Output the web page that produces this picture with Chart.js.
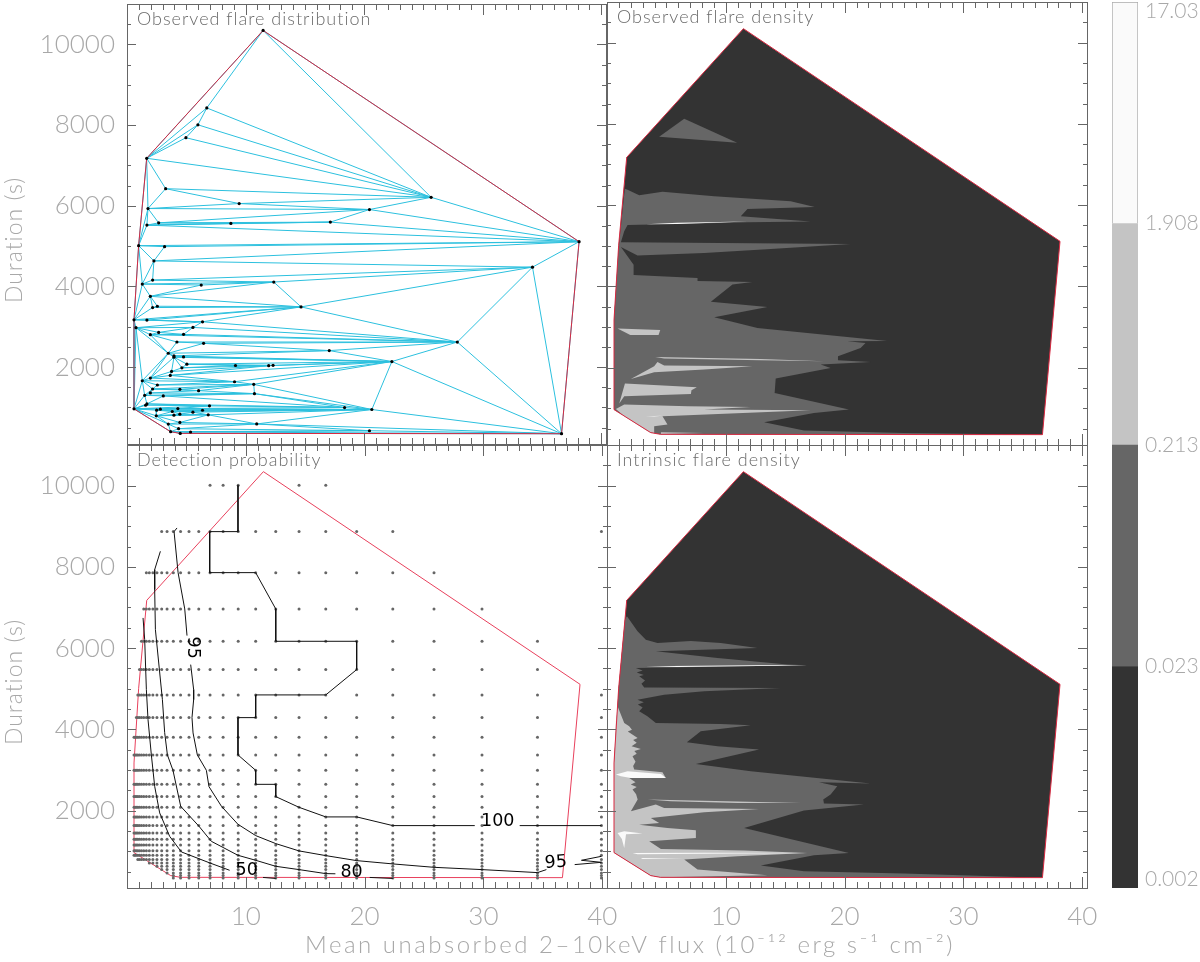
<!DOCTYPE html>
<html><head><meta charset="utf-8">
<script src="https://cdn.jsdelivr.net/npm/chart.js@4"></script>
<style>
html,body{margin:0;padding:0;background:#fff;width:1200px;height:962px;overflow:hidden}
canvas{position:absolute;display:block}
</style></head><body>
<canvas id="p1" style="position:absolute;left:0px;top:0px" width="610" height="448"></canvas>
<canvas id="p2" style="position:absolute;left:600px;top:0px" width="492" height="448"></canvas>
<canvas id="p3" style="position:absolute;left:0px;top:440px" width="1000" height="522"></canvas>
<canvas id="p4" style="position:absolute;left:600px;top:440px" width="500" height="522"></canvas>
<canvas id="cb" style="position:absolute;left:1090px;top:0px" width="110" height="962"></canvas>
<script>
// ---------- observed flares (flux, duration) ----------
const flareFlux=[11.48,6.73,5.98,4.97,1.66,3.26,9.46,1.77,20.45,17.15,8.76,2.67,1.68,25.65,38.13,34.2,27.86,36.65,
0.98,3.17,2.27,2.16,1.29,6.26,12.38,1.97,14.68,2.16,2.56,0.59,1.68,6.37,5.56,0.76,2.67,1.97,4.77,4.21,6.46,17.06,3.48,3.96,3.96,4.77,22.34,5.05,9.15,11.95,12.32,4.63,3.76,3.65,1.97,1.29,9.07,10.69,2.56,2.16,4.46,6.04,1.97,10.75,1.49,3.06,1.68,1.57,6.96,18.35,0.59,2.81,4.29,20.65,2.5,6.37,3.82,5.56,4.46,6.85,3.96,2.47,4.46,3.48,10.94,4.35,3.68,5.36,4.49,20.45];
const flareDuration=[10344,8424,8006,7686,7176,6423,6054,5931,5906,5594,5562,5576,5520,6209,5109,4478,2622,350,
5010,4986,4633,4158,4059,4035,4109,3755,3493,3477,3509,3173,3166,3124,2984,2977,2861,2804,2812,2623,2590,2410,2344,2279,2246,2254,2139,2074,2041,2036,2044,1983,1893,1795,1729,1663,1638,1573,1557,1458,1450,1417,1360,1343,1302,1286,1089,1056,1040,999,966,958,974,950,933,931,900,884,835,818,810,794,629,589,592,474,400,392,358,424];
const hullFlux=[11.48,38.13,36.65,4.49,3.68,0.59,0.59,0.98,1.66,11.48];
const hullDuration=[10344,5109,350,358,400,966,3173,5010,7176,10344];

// ---------- observed density contours ----------
const obsMid=[[1.73,6381],[2.71,6242],[4.67,6332],[9.02,6217],[15.46,6094],[17.48,5955],[11.82,5906],[11.26,5725],[17.14,5594],[11.82,5577],[6.78,5544],[1.73,5512],[1.45,5356],[1.17,5085],[20.5,5044],[13.78,4921],[8.18,4822],[2.57,4757],[1.17,4970],[2.24,4535],[2.24,4281],[7.62,4207],[7.62,4133],[12.24,4109],[10.56,4043],[8.74,3624],[13.5,3493],[9.02,3239],[12.66,2976],[23.58,2656],[20.22,2648],[21.76,2607],[21.34,2484],[19.44,2279],[19.44,2180],[22.18,2139],[17.98,2074],[18.82,1992],[14.2,1729],[14.11,1376],[20.36,966],[17.42,884],[13.22,654],[16.58,449],[24.98,392],[36.65,350],[4.49,358],[3.68,400],[0.59,966],[0.59,3173],[0.98,4950],[1.5,6400]];
const obsPatch=[[4.39,7686],[6.5,8129],[10.95,7538]];
const obsLight=[
 [[0.89,2960],[4.48,2927],[4.34,2804],[1.96,2804]],
 [[4.06,2262],[12.94,2213],[18.26,2156],[12.94,2180],[4.81,2222]],
 [[2.01,1721],[3.97,2033],[4.25,2139],[4.81,2049],[12.24,2033],[8.18,1951],[3.97,1885]],
 [[1.51,1606],[7.56,1516],[7.11,1442],[7.06,1352],[1.45,1294],[1.03,1114]],
 [[0.75,982],[1.45,1089],[6.78,1048],[12.1,1032],[8.18,966],[17.14,950],[6.78,827],[4.67,802],[5.09,597],[3.97,556],[3.97,392],[3.55,408],[1.45,802]],
 [[4.54,408],[8.18,392],[4.54,367]]
];
const obsWhite=[
 [[3.27,5528],[5.93,5569],[11.82,5594],[5.93,5536]],
 [[3.27,802],[4.67,818],[3.97,794]]
];

// ---------- intrinsic density contours ----------
const intMid=[[1.68,6784],[2.57,6414],[3.27,6209],[4.25,6127],[7.05,6176],[9.58,6127],[12.66,6004],[4.11,5922],[9.3,5758],[15.18,5594],[16.86,5577],[2.43,5512],[3.0,5450],[2.5,5400],[3.1,5340],[2.71,5307],[3.2,5200],[2.9,5120],[3.13,5028],[14.62,5020],[8.18,4937],[4.81,4855],[2.57,4732],[3.1,4670],[2.6,4610],[3.0,4540],[2.71,4445],[3.4,4320],[4.11,4158],[9.58,4133],[12.1,4101],[7.89,3953],[6.72,3682],[9.3,3584],[12.8,3502],[7.48,3149],[12.1,2968],[22.18,2665],[17.84,2698],[19.38,2599],[18.82,2394],[18.2,2271],[18.26,2172],[21.62,2148],[16.58,2000],[11.54,1573],[20.36,958],[17.42,900],[12.94,646],[16.58,507],[24.98,449],[36.65,350],[4.49,358],[3.68,400],[0.59,966],[0.59,3173],[0.98,5010],[1.5,6700]];
const intLight=[
 [[0.89,4568],[1.45,4158],[1.87,4076],[2.1,3990],[1.75,3950],[2.58,3789],[2.2,3740],[2.5,3670],[2.07,3584],[2.85,3518],[2.3,3470],[2.5,3400],[2.15,3337],[2.4,3200],[2.2,3100],[2.29,3009],[4.67,2944],[4.95,2804],[1.87,2804],[2.4,2700],[2.0,2640],[2.5,2580],[2.15,2517],[2.45,2400],[2.58,2271],[2.01,1984],[4.11,2148],[4.81,2066],[12.8,2041],[8.18,1959],[3.69,1820],[4.39,1697],[2.71,1655],[5.09,1573],[7.48,1516],[7.48,1327],[3.55,1245],[4.54,1056],[11.54,1016],[16.86,958],[10.98,876],[6.5,794],[7.62,548],[13.5,408],[4.49,358],[3.68,400],[0.59,966],[0.59,3173],[0.75,4200]],
 [[3.42,2271],[10.98,2222],[16.3,2189],[10.98,2189],[5.38,2230]]
];
const intWhite=[
 [[0.75,2886],[1.73,2968],[4.54,2903],[4.95,2804],[2.01,2804],[1.17,2845]],
 [[0.89,1450],[1.45,1491],[2.99,1434],[1.6,1420],[1.45,1081],[1.25,1300]],
 [[2.15,958],[8.18,965],[16.86,958],[8.18,940],[2.57,925]],
 [[2.85,835],[6.5,810],[3.0,810]],
 [[3.27,5553],[14.34,5586],[16.86,5577],[14.34,5569],[5.93,5536]]
];

// ---------- detection probability grid and contours ----------
const gridCols=[0.59,0.68,0.79,0.91,1.05,1.22,1.41,1.63,1.88,2.18,2.52,2.92,3.37,3.9,4.51,5.22,6.04,6.99,8.09,9.36,10.83,12.52,14.48,16.73,19.33,22.37,25.84,29.88,34.55,39.93];
const gridDur=[10007,8868,7858,6964,6168,5471,4848,4289,3805,3371,2992,2647,2345,2081,1845,1631,1451,1294,1156,1015,900,794,713,629,548,467,400,343];
const gridMin=[6.9,2.9,1.57,1.3,1.13,0.98,0.85,0.7,0.59,0.59,0.59,0.59,0.59,0.59,0.59,0.59,0.59,0.59,0.59,0.59,0.59,0.9,1.75,2.5,2.9,3.3,3.9,3.9];
const gridMax=[16.8,40,25.9,29.9,34.6,34.6,40,40,40,40,40,40,40,40,40,40,40,40,40,40,40,40,40,40,40,40,40,40];
const gridGapFrom=[10,24,0,0,0,0,0,0,0,0,0,0,0,0,0,0,0,0,0,0,0,0,0,0,0,0,0,0];
const gridGapTo=[13,35,0,0,0,0,0,0,0,0,0,0,0,0,0,0,0,0,0,0,0,0,0,0,0,0,0,0];
const contour100=[[9.34,10007],[9.34,8868],[6.96,8868],[6.96,7858],[10.83,7858],[12.52,6964],[12.52,6168],[19.33,6168],[19.33,5471],[16.73,4848],[10.83,4848],[10.83,4289],[9.34,4289],[9.34,3371],[10.83,2992],[10.83,2647],[12.52,2647],[12.52,2345],[14.48,2081],[16.73,1845],[19.33,1845],[22.37,1631],[29.27,1631],null,[33.05,1631],[39.93,1631]];
const contour95=[[4.21,8958],[3.96,8868],[4.3,7858],[4.86,6964],[5.05,6308],null,[5.36,5594],[5.61,4978],[5.61,4732],[5.47,4289],[5.56,3912],[5.92,3371],[6.68,2992],[6.9,2590],[7.95,2106],[9.34,1663],[10.83,1385],[12.52,1188],[14.48,1008],[16.73,892],[19.33,769],[22.37,688],[25.84,604],[29.88,548],[34.55,474],[35.3,548],null,[37.68,671],[39.93,727],[38.25,777],[39.93,875]];
const contour80=[[2.81,8383],[2.33,7932],[2.33,7440],[2.39,6455],[2.98,4732],[3.17,3920],[3.4,3371],[3.87,2992],[4.52,2106],[6.06,1614],[7.1,1244],[9.34,900],[10.83,777],[12.52,629],[14.48,548],[16.73,449],[17.54,445],null,[20.43,355],[22.37,330]];
const contour50=[[1.35,6743],[1.49,6209],[1.63,4978],[1.77,4240],[2.05,3371],[2.33,2598],[2.75,1943],[3.59,1367],[4.58,983],[6.96,713],[8.64,531],null,[11.45,355],[12.52,330]];

// ---------- axes / colour bar ----------
const xTickVals=[10,20,30,40];
const yTickVals=[2000,4000,6000,8000,10000];
const levelLabels=['0.002','0.023','0.213','1.908','17.03'];
const levelTicks=[0.04,1,2,3,3.96];
const levelColors=['#333333','#666666','#c4c4c4','#fafafa'];
const levelSpan=[1,1,1,1];

const XMIN=0,XMAX=40.4,YMIN=95,YMAX=11000;
const LABEL='#a8a8a8',AXIS='#666666',RED='#d82840',CYAN='#2cc0de';
const tickFont={family:'Lato, "Liberation Sans", sans-serif',size:26,weight:'300'};

const delaunayEdges=(xs,ys)=>{
  const n=xs.length,seen=new Set();
  for(let i=0;i<n;i++)for(let j=i+1;j<n;j++)for(let k=j+1;k<n;k++){
    let o=(xs[j]-xs[i])*(ys[k]-ys[i])-(ys[j]-ys[i])*(xs[k]-xs[i]);
    if(Math.abs(o)<1e-9)continue;
    const b=o>0?j:k,c=o>0?k:j;
    let ok=true;
    for(let m=0;m<n&&ok;m++){
      if(m===i||m===j||m===k)continue;
      const ax=xs[i]-xs[m],ay=ys[i]-ys[m],bx=xs[b]-xs[m],by=ys[b]-ys[m],cx=xs[c]-xs[m],cy=ys[c]-ys[m];
      const det=(ax*ax+ay*ay)*(bx*cy-cx*by)-(bx*bx+by*by)*(ax*cy-cx*ay)+(cx*cx+cy*cy)*(ax*by-bx*ay);
      if(det>0)ok=false;
    }
    if(ok){seen.add(i+'_'+j);seen.add(j+'_'+k);seen.add(i+'_'+k);}
  }
  const out=[];
  seen.forEach(s=>{const[a,b]=s.split('_').map(Number);out.push({x:xs[a],y:ys[a]},{x:xs[b],y:ys[b]},{x:NaN,y:NaN});});
  return out;
};
const pts=a=>a.map(p=>p?{x:p[0],y:p[1]}:{x:NaN,y:NaN});
const closed=a=>pts(a.concat([a[0]]));
const hullPts=hullFlux.map((x,i)=>({x,y:hullDuration[i]}));
const poly=(a,c)=>({data:closed(a),showLine:true,fill:'shape',backgroundColor:c,borderWidth:0,borderColor:'transparent',pointRadius:0});
const line=(d,c,w)=>({data:d,showLine:true,fill:false,borderColor:c,borderWidth:w,pointRadius:0,tension:0});
const ordered=l=>{l.forEach((d,i)=>d.order=l.length-i);return l;};
const noMargins=s=>{s.paddingTop=0;s.paddingBottom=0;s.paddingLeft=0;s.paddingRight=0;};

const frame={id:'frame',afterDatasetsDraw(ch,args,o){
  const {ctx,chartArea:a,scales:{x,y}}=ch;
  ctx.save();ctx.strokeStyle=AXIS;ctx.lineWidth=1;ctx.beginPath();
  for(let v=1;v<=40;v++){const p=Math.round(x.getPixelForValue(v))+.5,l=v%10===0?11:6;
    ctx.moveTo(p,a.bottom);ctx.lineTo(p,a.bottom-l);ctx.moveTo(p,a.top);ctx.lineTo(p,a.top+l);}
  for(let v=500;v<=10500;v+=500){const p=Math.round(y.getPixelForValue(v))+.5,l=v%2000===0?9:4;
    ctx.moveTo(a.left,p);ctx.lineTo(a.left+l,p);ctx.moveTo(a.right,p);ctx.lineTo(a.right-l,p);}
  ctx.stroke();
  ctx.strokeRect(a.left+.5,a.top+.5,a.right-a.left,a.bottom-a.top);
  ctx.restore();
}};
const notes={id:'notes',afterDraw(ch,args,o){
  const {ctx,chartArea:a,scales:{x,y}}=ch;
  ctx.save();ctx.textBaseline='alphabetic';ctx.fillStyle='#6a6a6a';ctx.font='300 18px Lato, "Liberation Sans", sans-serif';
  ctx.letterSpacing='1px';
  if(o.title)ctx.fillText(o.title,a.left+10,a.top+21);
  ctx.letterSpacing='0px';
  (o.labels||[]).forEach(l=>{
    ctx.save();ctx.translate(x.getPixelForValue(l.x),y.getPixelForValue(l.y));ctx.rotate((l.rot||0)*Math.PI/180);
    ctx.font='17.5px "DejaVu Sans", sans-serif';ctx.fillStyle='#000';ctx.textAlign='center';ctx.textBaseline='middle';
    ctx.fillText(l.t,0,0);ctx.restore();});
  if(o.yTitle){ctx.save();ctx.translate(22,o.yCenter);ctx.rotate(-Math.PI/2);ctx.fillStyle=LABEL;
    ctx.font='300 23px Lato, "Liberation Sans", sans-serif';ctx.letterSpacing='1px';ctx.textAlign='center';ctx.fillText(o.yTitle,0,0);ctx.restore();}
  if(o.xTitle){ctx.fillStyle=LABEL;ctx.font='300 24px Lato, "Liberation Sans", sans-serif';ctx.letterSpacing='2.5px';ctx.textAlign='left';
    ctx.fillText(o.xTitle,o.xLeft,o.xBase);}
  ctx.restore();
}};
function panel(id,datasets,cfg){
  return new Chart(document.getElementById(id),{type:'scatter',plugins:[frame,notes],
    data:{datasets},
    options:{responsive:false,animation:false,events:[],
      layout:{padding:cfg.padding},
      plugins:{legend:{display:false},tooltip:{enabled:false},notes:cfg.notes},
      scales:{
        x:{type:'linear',min:XMIN,max:XMAX,display:cfg.showX,grid:{display:false,drawTicks:false},border:{display:false},
          afterBuildTicks:s=>{s.ticks=xTickVals.map(v=>({value:v}));},
          afterFit:s=>{noMargins(s);if(cfg.showX)s.height=74;},
          ticks:{display:cfg.showX,color:LABEL,font:tickFont,padding:13,maxRotation:0,autoSkip:false,callback:v=>String(v)}},
        y:{type:'linear',min:YMIN,max:YMAX,display:cfg.showY,grid:{display:false,drawTicks:false},border:{display:false},
          afterBuildTicks:s=>{s.ticks=yTickVals.map(v=>({value:v}));},
          afterFit:s=>{noMargins(s);if(cfg.showY)s.width=127;},
          ticks:{display:cfg.showY,color:LABEL,font:tickFont,padding:12,autoSkip:false,callback:v=>String(v)}}
      }}});
}
// panel 1
panel('p1',ordered([
  line(delaunayEdges(flareFlux,flareDuration),CYAN,1),
  line(hullPts,RED,1),
  {data:flareFlux.map((x,i)=>({x,y:flareDuration[i]})),pointRadius:1.6,pointBackgroundColor:'#000',pointBorderWidth:0,showLine:false}
]),{padding:{left:0,top:2,right:3,bottom:3},showX:false,showY:true,
  notes:{title:'Observed flare distribution',yTitle:'Duration (s)',yCenter:240}});
// panel 2
panel('p2',ordered([
  poly(hullPts.map(p=>[p.x,p.y]),'#333333'),
  poly(obsMid,'#666666'),poly(obsPatch,'#666666'),
  ...obsLight.map(a=>poly(a,'#c4c4c4')),
  ...obsWhite.map(a=>poly(a,'#fafafa')),
  line(hullPts,RED,1)
]),{padding:{left:7,top:2,right:5,bottom:3},showX:false,showY:false,notes:{title:'Observed flare density'}});
// panel 3
const gridPts=[];
gridDur.forEach((d,r)=>gridCols.forEach(c=>{
  if(c<gridMin[r]||c>gridMax[r])return;
  if(c>gridGapFrom[r]&&c<gridGapTo[r])return;
  gridPts.push({x:c,y:d});
}));
panel('p3',ordered([
  line(hullPts,'#e8405c',1),
  {data:gridPts,pointRadius:1.5,pointBackgroundColor:'#666',pointBorderWidth:0,showLine:false},
  line(pts(contour50),'#111',1),line(pts(contour80),'#111',1),line(pts(contour95),'#111',1),line(pts(contour100),'#111',1)
]),{padding:{left:0,top:5,right:393,bottom:0},showX:true,showY:true,
  notes:{title:'Detection probability',yTitle:'Duration (s)',yCenter:242,
    xTitle:'Mean unabsorbed 2\u201310keV flux (10\u207b\u00b9\u00b2 erg s\u207b\u00b9 cm\u207b\u00b2)',xLeft:305,xBase:513,
    labels:[{t:'50',x:10.07,y:523},{t:'80',x:18.9,y:481},{t:'95',x:5.5,y:6010,rot:90},{t:'100',x:31.2,y:1730},{t:'95',x:36.1,y:720,rot:-4}]}});
// panel 4
panel('p4',ordered([
  poly(hullPts.map(p=>[p.x,p.y]),'#333333'),
  poly(intMid,'#666666'),
  ...intLight.map(a=>poly(a,'#c4c4c4')),
  ...intWhite.map(a=>poly(a,'#fafafa')),
  line(hullPts,RED,1)
]),{padding:{left:7,top:5,right:13,bottom:0},showX:true,showY:false,notes:{title:'Intrinsic flare density'}});
// colour bar
new Chart(document.getElementById('cb'),{type:'bar',
  data:{labels:['level'],datasets:levelColors.map((c,i)=>({data:[levelSpan[i]],backgroundColor:c,borderWidth:i===3?1:0,borderColor:'#aaaaaa',barPercentage:1,categoryPercentage:1}))},
  options:{responsive:false,animation:false,events:[],layout:{padding:{left:22,top:2,right:0,bottom:74}},
    plugins:{legend:{display:false},tooltip:{enabled:false}},
    scales:{x:{stacked:true,display:false},
      y:{stacked:true,position:'right',min:0,max:4,grid:{display:false,drawTicks:false},border:{display:false},
        afterBuildTicks:s=>{s.ticks=levelTicks.map(v=>({value:v}));},
        afterFit:s=>{noMargins(s);s.width=62;},
        ticks:{color:LABEL,font:{family:'Lato, "Liberation Sans", sans-serif',size:21,weight:'300'},padding:7,autoSkip:false,
          callback:(v,i)=>levelLabels[i]}}}}});
</script></body></html>
